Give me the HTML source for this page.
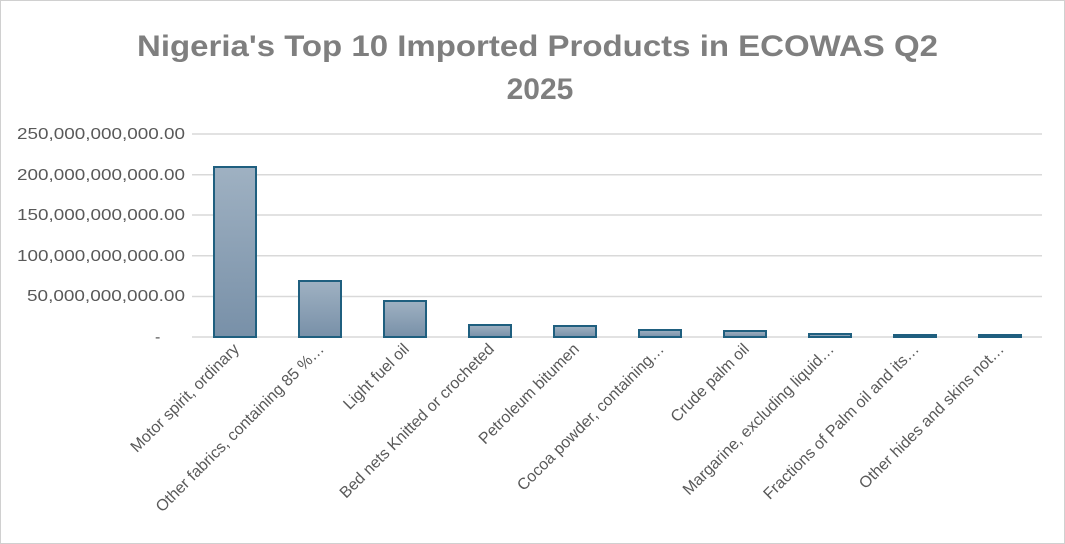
<!DOCTYPE html>
<html><head><meta charset="utf-8"><style>
body{margin:0;background:#fff}
svg{display:block}
</style></head><body>
<svg width="1065" height="544" xmlns="http://www.w3.org/2000/svg" font-family="Liberation Sans, sans-serif">
<defs><linearGradient id="g" x1="0" y1="0" x2="0" y2="1"><stop offset="0" stop-color="#9fb1c2"/><stop offset="1" stop-color="#7890a8"/></linearGradient></defs>
<rect x="0.5" y="0.5" width="1064" height="543" fill="#fff" stroke="#d0d0d0"/>
<text x="137" y="56" textLength="801" lengthAdjust="spacingAndGlyphs" font-size="30" font-weight="bold" fill="#7f7f7f">Nigeria's Top 10 Imported Products in ECOWAS Q2</text>
<text x="540" y="99" text-anchor="middle" font-size="30" font-weight="bold" fill="#7f7f7f">2025</text>
<g stroke="#d9d9d9" stroke-width="1.5">
<line x1="192" x2="1042" y1="134" y2="134"/><line x1="192" x2="1042" y1="174.7" y2="174.7"/><line x1="192" x2="1042" y1="215" y2="215"/><line x1="192" x2="1042" y1="255.7" y2="255.7"/><line x1="192" x2="1042" y1="296.5" y2="296.5"/><line x1="192" x2="1042" y1="337" y2="337"/>
</g>
<g font-size="16" fill="#595959">
<text x="17" y="139" textLength="168" lengthAdjust="spacingAndGlyphs">250,000,000,000.00</text>
<text x="17" y="180" textLength="168" lengthAdjust="spacingAndGlyphs">200,000,000,000.00</text>
<text x="17" y="220" textLength="168" lengthAdjust="spacingAndGlyphs">150,000,000,000.00</text>
<text x="17" y="261" textLength="168" lengthAdjust="spacingAndGlyphs">100,000,000,000.00</text>
<text x="27" y="301" textLength="158" lengthAdjust="spacingAndGlyphs">50,000,000,000.00</text>
<text x="155" y="342">-</text>
</g>
<g fill="url(#g)" stroke="#1f5f7f" stroke-width="2">
<rect x="214" y="167" width="42" height="170"/><rect x="299" y="281" width="42" height="56"/><rect x="384" y="301" width="42" height="36"/><rect x="469" y="325" width="42" height="12"/><rect x="554" y="326" width="42" height="11"/><rect x="639" y="330" width="42" height="7"/><rect x="724" y="331" width="42" height="6"/><rect x="809" y="334" width="42" height="3"/><rect x="894" y="335" width="42" height="2"/><rect x="979" y="335" width="42" height="2"/>
</g>
<g font-size="16" fill="#595959" text-anchor="end">
<text transform="translate(240,350) rotate(-45)">Motor spirit, ordinary</text>
<text transform="translate(325,350) rotate(-45)">Other fabrics, containing 85 %…</text>
<text transform="translate(410,350) rotate(-45)">Light fuel oil</text>
<text transform="translate(495,350) rotate(-45)">Bed nets  Knitted or crocheted</text>
<text transform="translate(580,350) rotate(-45)">Petroleum bitumen</text>
<text transform="translate(665,350) rotate(-45)">Cocoa powder, containing…</text>
<text transform="translate(750,350) rotate(-45)">Crude palm oil</text>
<text transform="translate(835,350) rotate(-45)">Margarine, excluding liquid…</text>
<text transform="translate(920,350) rotate(-45)">Fractions of Palm oil and its…</text>
<text transform="translate(1005,350) rotate(-45)">Other hides and skins not…</text>
</g>
</svg>
</body></html>
